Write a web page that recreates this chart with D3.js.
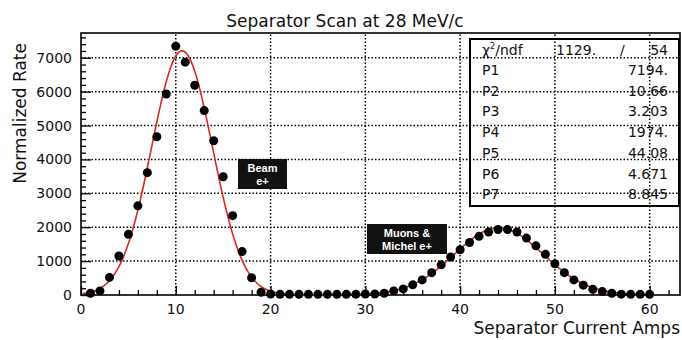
<!DOCTYPE html>
<html>
<head>
<meta charset="utf-8">
<script src="https://cdn.jsdelivr.net/npm/d3@7"></script>
<style>
  body { margin: 0; background: #fff; }
  text { font-family: "DejaVu Sans", sans-serif; fill: #111; }
</style>
</head>
<body>
<svg id="chart" width="682" height="340"></svg>
<script>
// separator current (amps) and normalized rate
var current = d3.range(1, 61);
var rate = [
  50, 120, 520, 1150, 1790, 2630, 3610, 4670, 5930, 7340,
  6870, 6190, 5440, 4550, 3490, 2340, 1280, 510, 80, 30,
  20, 20, 20, 20, 20, 20, 20, 20, 20, 30,
  30, 50, 120, 180, 300, 445, 660, 890, 1120, 1335,
  1550, 1730, 1860, 1930, 1930, 1860, 1680, 1450, 1200, 920,
  660, 445, 290, 170, 100, 50, 25, 20, 20, 20
];

// fit result shown in the stats box
var statNames = ["P1", "P2", "P3", "P4", "P5", "P6", "P7"];
var statValues = ["7194.", "10.66", "3.203", "1974.", "44.08", "4.671", "8.845"];
var fitParams = [7194, 10.66, 3.203, 1974, 44.08, 4.671, 8.845];
var chi2 = "1129.", ndf = "54";

var xTicks = [0, 10, 20, 30, 40, 50, 60];
var yTicks = [0, 1000, 2000, 3000, 4000, 5000, 6000, 7000];

var svg = d3.select("#chart"),
  MARGINS = { top: 33, right: 2, bottom: 45, left: 81 },
  WIDTH = 682, HEIGHT = 340;

var x = d3.scaleLinear().domain([0, 63.2]).range([MARGINS.left, WIDTH - MARGINS.right]);
var y = d3.scaleLinear().domain([0, 7730]).range([HEIGHT - MARGINS.bottom, MARGINS.top]);

svg.append("rect").attr("width", WIDTH).attr("height", HEIGHT).attr("fill", "#fff");

// dotted grid
svg.append("g").selectAll("line").data(xTicks.slice(1)).join("line")
  .attr("x1", d => x(d)).attr("x2", d => x(d))
  .attr("y1", y.range()[0]).attr("y2", y.range()[1])
  .attr("stroke", "#000").attr("stroke-width", 1.5).attr("stroke-dasharray", "1.5,2");
svg.append("g").selectAll("line").data(yTicks.slice(1)).join("line")
  .attr("x1", x.range()[0]).attr("x2", x.range()[1])
  .attr("y1", d => y(d)).attr("y2", d => y(d))
  .attr("stroke", "#000").attr("stroke-width", 1.5).attr("stroke-dasharray", "1.5,2");

// axes, ticks pointing inside the frame
var xAxis = svg.append("g").attr("transform", "translate(0," + y(0) + ")")
  .call(d3.axisBottom(x).tickValues(d3.range(0, 63, 2)).tickSizeInner(-5).tickSizeOuter(0).tickFormat(""));
xAxis.selectAll(".tick line").filter(d => d % 10 === 0).attr("y2", -9);
xAxis.select(".domain").remove();
svg.append("g").selectAll("text").data(xTicks).join("text")
  .attr("x", d => x(d)).attr("y", 314).attr("text-anchor", "middle")
  .attr("font-size", 14).text(d => d);

var yAxis = svg.append("g").attr("transform", "translate(" + x(0) + ",0)")
  .call(d3.axisLeft(y).tickValues(d3.range(0, 7700, 200)).tickSizeInner(-5).tickSizeOuter(0).tickFormat(""));
yAxis.selectAll(".tick line").filter(d => d % 1000 === 0).attr("x2", 10);
yAxis.select(".domain").remove();
svg.append("g").selectAll("text").data(yTicks).join("text")
  .attr("x", 72).attr("y", d => y(d)).attr("dy", "0.36em").attr("text-anchor", "end")
  .attr("font-size", 14).text(d => d);

svg.selectAll(".tick line").attr("stroke", "#000").attr("stroke-width", 1.3);

// frame
svg.append("rect")
  .attr("x", x.range()[0]).attr("y", y.range()[1])
  .attr("width", x.range()[1] - x.range()[0]).attr("height", y.range()[0] - y.range()[1])
  .attr("fill", "none").attr("stroke", "#000").attr("stroke-width", 1.6);

// fit curve: two gaussians plus a constant, from the parameters in the box
function fitFunc(v) {
  var p = fitParams;
  return p[0] * Math.exp(-0.5 * Math.pow((v - p[1]) / p[2], 2)) +
    p[3] * Math.exp(-0.5 * Math.pow((v - p[4]) / p[5], 2)) + p[6];
}
var curveX = d3.range(0.2, 60.01, 0.1);
svg.append("path")
  .attr("d", d3.line().x(d => x(d)).y(d => y(fitFunc(d)))(curveX))
  .attr("fill", "none").attr("stroke", "#d42a22").attr("stroke-width", 1.6);

// data points
svg.append("g").selectAll("circle").data(current).join("circle")
  .attr("cx", d => x(d)).attr("cy", (d, i) => y(rate[i]))
  .attr("r", 4.5).attr("fill", "#000");

// stats box
var box = svg.append("g");
box.append("rect").attr("x", 470).attr("y", 39).attr("width", 209).attr("height", 167)
  .attr("fill", "none").attr("stroke", "#000").attr("stroke-width", 2);
box.append("text").attr("x", 482).attr("y", 55).attr("font-size", 14)
  .html("&#967;<tspan font-size='8' dy='-6'>2</tspan><tspan dy='6'>/ndf</tspan>");
box.append("text").attr("x", 556).attr("y", 55).attr("font-size", 14).text(chi2);
box.append("text").attr("x", 620).attr("y", 55).attr("font-size", 14).text("/");
box.append("text").attr("x", 668).attr("y", 55).attr("font-size", 14).attr("text-anchor", "end").text(ndf);
box.selectAll(".pname").data(statNames).join("text").attr("class", "pname")
  .attr("x", 482).attr("y", (d, i) => 75 + i * 20.7).attr("font-size", 14).text(d => d);
box.selectAll(".pval").data(statValues).join("text").attr("class", "pval")
  .attr("x", 668).attr("y", (d, i) => 75 + i * 20.7).attr("font-size", 14)
  .attr("text-anchor", "end").text(d => d);

// annotations
function label(x0, y0, w, h, lines) {
  var g = svg.append("g");
  g.append("rect").attr("x", x0).attr("y", y0).attr("width", w).attr("height", h).attr("fill", "#111");
  lines.forEach(function (t, i) {
    g.append("text").attr("x", x0 + w / 2).attr("y", y0 + 12.5 + i * 13)
      .attr("text-anchor", "middle").attr("font-size", 11).attr("font-weight", "bold")
      .style("font-family", "Liberation Sans, Arial, sans-serif").style("fill", "#fff").text(t);
  });
}
label(238, 159, 49, 30, ["Beam", "e+"]);
label(367, 224, 80, 30, ["Muons &", "Michel e+"]);

// titles
svg.append("text").attr("x", 345).attr("y", 27).attr("text-anchor", "middle")
  .attr("font-size", 17).text("Separator Scan at 28 MeV/c");
svg.append("text").attr("x", 680).attr("y", 334).attr("text-anchor", "end")
  .attr("font-size", 17).text("Separator Current Amps");
svg.append("text").attr("transform", "translate(26,43) rotate(-90)").attr("text-anchor", "end")
  .attr("font-size", 17).text("Normalized Rate");
</script>
</body>
</html>
